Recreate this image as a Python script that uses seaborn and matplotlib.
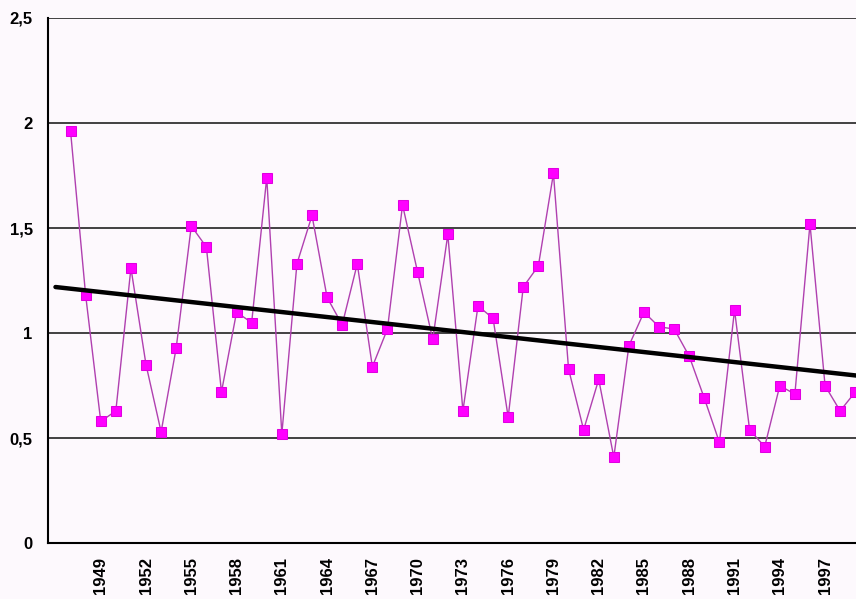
import matplotlib
matplotlib.use("Agg")
import matplotlib.pyplot as plt
import numpy as np
import pandas as pd
import seaborn as sns
from matplotlib.ticker import FixedLocator, FuncFormatter

years = list(range(1947, 2000))
values = [
    1.96, 1.18, 0.58, 0.63, 1.31, 0.85, 0.53, 0.93, 1.51, 1.41,
    0.72, 1.10, 1.05, 1.74, 0.52, 1.33, 1.56, 1.17, 1.04, 1.33,
    0.84, 1.02, 1.61, 1.29, 0.97, 1.47, 0.63, 1.13, 1.07, 0.60,
    1.22, 1.32, 1.76, 0.83, 0.54, 0.78, 0.41, 0.94, 1.10, 1.03,
    1.02, 0.89, 0.69, 0.48, 1.11, 0.54, 0.46, 0.75, 0.71, 1.52,
    0.75, 0.63, 0.72,
]
label_years = list(range(1949, 1998, 3))
y_ticks = [0, 0.5, 1, 1.5, 2, 2.5]

df = pd.DataFrame({"year": years, "value": values})

# linear trend over the data, drawn across the whole category axis
slope, intercept = np.polyfit(df["year"], df["value"], 1)
trend = pd.DataFrame({"year": [1946, 2000]})
trend["value"] = intercept + slope * trend["year"]

sns.set_style("white")
plt.rcParams["font.family"] = ["Liberation Sans", "DejaVu Sans"]

bg = "#fdf9fd"
fig = plt.figure(figsize=(8.56, 5.99), dpi=100, facecolor=bg)
ax = fig.add_axes([0.056, 0.093, 0.944, 0.877])
ax.set_facecolor(bg)

for v in y_ticks[1:]:
    ax.axhline(v, color="#222222", lw=1.2, zorder=1)

sns.lineplot(data=df, x="year", y="value", ax=ax, color="#b040b0", lw=1,
             marker="s", markersize=7.5, markerfacecolor="#ff00ff",
             markeredgecolor="#e000e0", zorder=3)
sns.lineplot(data=trend, x="year", y="value", ax=ax, color="black", lw=3.2,
             zorder=4)

ax.set_xlim(1945.5, 1999.05)
ax.set_ylim(0, 2.5)
ax.set_xlabel("")
ax.set_ylabel("")

ax.xaxis.set_major_locator(FixedLocator(label_years))
ax.xaxis.set_minor_locator(FixedLocator(np.arange(1945.5, 2000, 1)))
ax.set_yticks(y_ticks)
ax.yaxis.set_major_formatter(FuncFormatter(lambda v, p: f"{v:g}".replace(".", ",")))
ax.tick_params(axis="x", which="major", length=0, pad=10, labelsize=12,
               labelrotation=90, labelcolor="black")
ax.tick_params(axis="x", which="minor", length=6, width=1.2, color="black",
               direction="out")
ax.tick_params(axis="y", length=5, width=1.2, color="black", pad=6,
               labelsize=12, direction="out", labelcolor="black")
for lab in ax.get_xticklabels() + ax.get_yticklabels():
    lab.set_fontweight("bold")

for side in ["top", "right"]:
    ax.spines[side].set_visible(False)
for side in ["left", "bottom"]:
    ax.spines[side].set_color("black")
    ax.spines[side].set_linewidth(1.5)

fig.savefig("out.png", dpi=100, facecolor=bg)
plt.close(fig)
